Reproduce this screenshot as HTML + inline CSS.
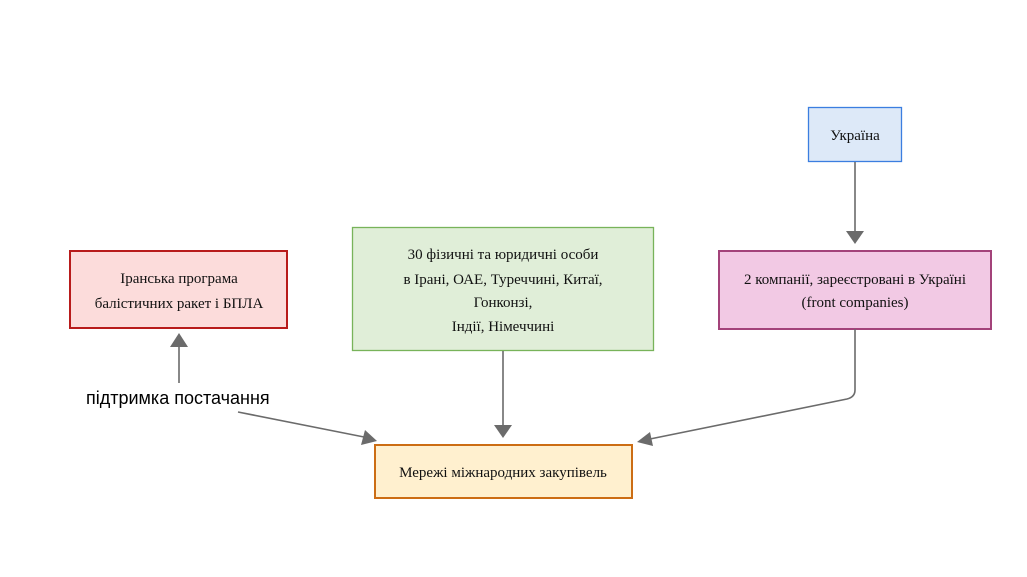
<!DOCTYPE html>
<html><head><meta charset="utf-8"><style>
html,body{margin:0;padding:0;background:#fff;}
svg{display:block;}
.t{font-family:"Liberation Serif","Noto Serif CJK SC",serif;font-size:15px;fill:#111;text-anchor:middle;}
.s{font-family:"Liberation Sans",sans-serif;font-size:18px;fill:#000;}
</style></head><body>
<svg width="1027" height="577" viewBox="0 0 1027 577" xmlns="http://www.w3.org/2000/svg">
<rect width="1027" height="577" fill="#fff"/>
<!-- red box -->
<rect x="70" y="251" width="217" height="77" fill="#fcdcdb" stroke="#b81b1b" stroke-width="2"/>
<text class="t" x="179" y="283">Іранська програма</text>
<text class="t" x="179" y="308">балістичних ракет і БПЛА</text>
<!-- green box -->
<rect x="352.5" y="227.5" width="301" height="123" fill="#e0eed8" stroke="#78b35a" stroke-width="1.3"/>
<text class="t" x="503" y="259">30 фізичні та юридичні особи</text>
<text class="t" x="503" y="284">в Ірані, ОАЕ, Туреччині, Китаї,</text>
<text class="t" x="503" y="307">Гонконзі,</text>
<text class="t" x="503" y="331">Індії, Німеччині</text>
<!-- orange box -->
<rect x="375" y="445" width="257" height="53" fill="#fff0cf" stroke="#cc6d14" stroke-width="2"/>
<text class="t" x="503" y="477">Мережі міжнародних закупівель</text>
<!-- blue box -->
<rect x="808.5" y="107.5" width="93" height="54" fill="#dde9f8" stroke="#3b7ee0" stroke-width="1.3"/>
<text class="t" x="855" y="140">Україна</text>
<!-- pink box -->
<rect x="719" y="251" width="272" height="78" fill="#f2c9e4" stroke="#a3437a" stroke-width="2"/>
<text class="t" x="855" y="284">2 компанії, зареєстровані в Україні</text>
<text class="t" x="855" y="307">(front companies)</text>
<!-- connectors -->
<g stroke="#6b6b6b" stroke-width="1.6" fill="none">
<line x1="179" y1="383" x2="179" y2="346"/>
<line x1="238" y1="412" x2="364" y2="437"/>
<line x1="503" y1="351" x2="503" y2="426"/>
<line x1="855" y1="162" x2="855" y2="232"/>
<path d="M855 329 L855 390 Q855 397 847 399 L650 439"/>
</g>
<g fill="#6b6b6b">
<polygon points="179,333 170,347 188,347"/>
<polygon points="377,441 361,445 365,430"/>
<polygon points="503,438 494,425 512,425"/>
<polygon points="855,244 846,231 864,231"/>
<polygon points="637,442 650,432 653,446"/>
</g>
<text class="s" x="86" y="404">підтримка постачання</text>
</svg>
</body></html>
